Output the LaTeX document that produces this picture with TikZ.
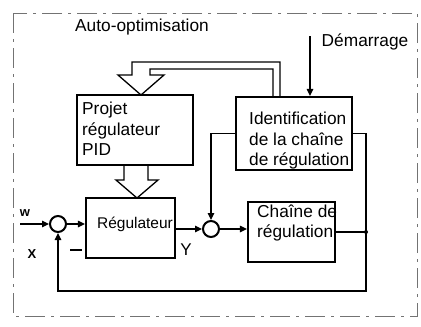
\documentclass[tikz,border=0pt]{standalone}
\usepackage{fontspec}
\setmainfont{Liberation Sans}
\usetikzlibrary{arrows.meta}
\begin{document}
\begin{tikzpicture}[x=1pt,y=-1pt,
  box/.style={draw, line width=2.2pt, inner sep=0pt},
  lbl/.style={font=\fontsize{17.3}{20.5}\selectfont, inner sep=0pt, align=left},
  sym/.style={font=\bfseries\fontsize{13}{15}\selectfont, inner sep=0pt},
  conn/.style={line width=1.2pt},
  arr/.style={conn, -{Triangle[length=7pt,width=6.5pt]}},
  sumpt/.style={draw, circle, line width=2pt, minimum size=16pt, inner sep=0pt},
  hollow/.style={line width=1.3pt, line join=miter},
  frame/.style={black!55, line width=0.9pt, dash pattern=on 20pt off 6pt on 3pt off 6pt}]
\useasboundingbox (0,0) rectangle (421,327);
\draw[frame] (13,13) rectangle (417,316);

% boxes
\node[box, minimum width=116pt, minimum height=70pt] (proj) at (135,130) {};
\node[box, minimum width=116pt, minimum height=73pt] (ident) at (294,133.5) {};
\node[box, minimum width=89pt, minimum height=60pt] (reg) at (130.5,228) {};
\node[box, minimum width=87pt, minimum height=60pt] (chain) at (291.5,232) {};
\node[sumpt] (s1) at (58,224) {};
\node[sumpt] (s2) at (211,229) {};

% texts
\node[lbl, anchor=west] (projt) at (82,129) {Projet\\régulateur\\PID};
\node[lbl, anchor=west] (identt) at (249,141) {Identification\\de la chaîne\\de régulation};
\node[lbl, anchor=west] (chaint) at (257,223) {Chaîne de\\régulation};
\node[font=\fontsize{15.5}{18}\selectfont, inner sep=0pt] (regt) at (135,224) {Régulateur};
\node[lbl] (auto) at (142,27) {Auto-optimisation};
\node[lbl] (demt) at (365,42) {Démarrage};
\node[sym] (wl) at (25,213) {w};
\node[sym] (xl) at (32,254) {X};
\node[font=\fontsize{17}{19}\selectfont, inner sep=0pt] (yl) at (186,250) {Y};
\node[inner sep=0pt] (minus) at (76,250) {\rule{12pt}{2pt}};

% coordinates
\coordinate (win) at (20,224);
\coordinate (dem) at (310,36);
\coordinate (j) at (366,232);
\coordinate (fb) at (366,291);

% connectors
\draw[arr] (win) -- (s1.west);
\draw[arr] (s1.east) -- (s1 -| reg.west);
\draw[arr] (reg.east |- s2) -- (s2.west);
\draw[arr] (ident.west) -| (s2.north);
\draw[arr] (s2.east) -- (s2 -| chain.west);
\draw[conn] (chain.east |- j) -- (j);
\draw[conn] (ident.east) -| (j);
\draw[arr] (j) -- (fb) -| (s1.south);
\draw[arr] (dem) -- (dem |- ident.north);
\fill (j) circle (2pt);

% hollow arrows
\draw[hollow] (273,97) -- (273,69) -- (150,69) -- (150,75) -- (164,75) -- (141,95)
  -- (118,75) -- (132,75) -- (132,62) -- (280,62) -- (280,97);
\draw[hollow] (124,165) -- (124,180) -- (116,180) -- (137,198) -- (158,180) -- (148,180) -- (148,165);
\end{tikzpicture}
\end{document}
